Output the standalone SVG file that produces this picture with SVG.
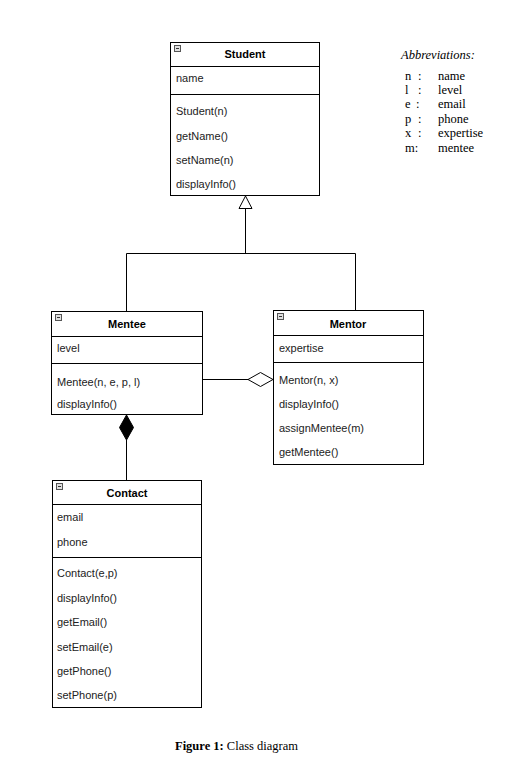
<svg xmlns="http://www.w3.org/2000/svg" width="511" height="767" viewBox="0 0 511 767">
<style>
.box{fill:#fff;stroke:#000;stroke-width:1}
.sep{stroke:#000;stroke-width:1}
.t{font-family:"Liberation Sans",Arial,sans-serif;font-size:11px;fill:#222}
.h{font-family:"Liberation Sans",Arial,sans-serif;font-size:11px;font-weight:bold;fill:#000;text-anchor:middle}
.ic{fill:#e0e0e0;stroke:#555;stroke-width:1}
.ab{font-family:"Liberation Serif","Times New Roman",serif;font-size:12.5px;fill:#000}
.ln{stroke:#000;stroke-width:1;fill:none}
</style>
<rect width="511" height="767" fill="#fff"/>
<g id="Student">
<rect class="box" x="170.5" y="42.5" width="149" height="153"/>
<rect class="ic" x="174.5" y="45.5" width="6" height="6"/><line x1="176" y1="48.5" x2="179" y2="48.5" stroke="#333"/>
<text class="h" x="245" y="58">Student</text>
<line class="sep" x1="170" y1="66.5" x2="320" y2="66.5"/>
<text class="t" x="176" y="82">name</text>
<line class="sep" x1="170" y1="94.5" x2="320" y2="94.5"/>
<text class="t" x="176" y="115">Student(n)</text>
<text class="t" x="176" y="140">getName()</text>
<text class="t" x="176" y="164">setName(n)</text>
<text class="t" x="176" y="188">displayInfo()</text>
</g>
<g id="Mentee">
<rect class="box" x="51.5" y="311.5" width="151" height="103"/>
<rect class="ic" x="55.5" y="314.5" width="6" height="6"/><line x1="57" y1="317.5" x2="60" y2="317.5" stroke="#333"/>
<text class="h" x="127" y="328">Mentee</text>
<line class="sep" x1="51" y1="336.5" x2="203" y2="336.5"/>
<text class="t" x="57" y="352">level</text>
<line class="sep" x1="51" y1="363.5" x2="203" y2="363.5"/>
<text class="t" x="57" y="386">Mentee(n, e, p, l)</text>
<text class="t" x="57" y="408">displayInfo()</text>
</g>
<g id="Mentor">
<rect class="box" x="273.5" y="310.5" width="150" height="154"/>
<rect class="ic" x="277.5" y="313.5" width="6" height="6"/><line x1="279" y1="316.5" x2="282" y2="316.5" stroke="#333"/>
<text class="h" x="348" y="328">Mentor</text>
<line class="sep" x1="273" y1="335.5" x2="424" y2="335.5"/>
<text class="t" x="279" y="352">expertise</text>
<line class="sep" x1="273" y1="362.5" x2="424" y2="362.5"/>
<text class="t" x="279" y="384">Mentor(n, x)</text>
<text class="t" x="279" y="408">displayInfo()</text>
<text class="t" x="279" y="432">assignMentee(m)</text>
<text class="t" x="279" y="456">getMentee()</text>
</g>
<g id="Contact">
<rect class="box" x="52.5" y="480.5" width="149" height="227"/>
<rect class="ic" x="56.5" y="483.5" width="6" height="6"/><line x1="58" y1="486.5" x2="61" y2="486.5" stroke="#333"/>
<text class="h" x="127" y="497">Contact</text>
<line class="sep" x1="52" y1="504.5" x2="202" y2="504.5"/>
<text class="t" x="57" y="521">email</text>
<text class="t" x="57" y="546">phone</text>
<line class="sep" x1="52" y1="557.5" x2="202" y2="557.5"/>
<text class="t" x="57" y="577">Contact(e,p)</text>
<text class="t" x="57" y="602">displayInfo()</text>
<text class="t" x="57" y="626">getEmail()</text>
<text class="t" x="57" y="651">setEmail(e)</text>
<text class="t" x="57" y="675">getPhone()</text>
<text class="t" x="57" y="699">setPhone(p)</text>
</g>
<g id="connectors">
<polyline class="ln" points="126.5,311 126.5,253.5 355.5,253.5 355.5,310"/>
<line class="ln" x1="245.5" y1="253.5" x2="245.5" y2="209"/>
<polygon points="245.5,196 252,208.5 239,208.5" fill="#fff" stroke="#000"/>
<line class="ln" x1="203" y1="379.5" x2="248" y2="379.5"/>
<polygon points="248,379.5 260.5,372.5 273,379.5 260.5,386.5" fill="#fff" stroke="#000"/>
<polygon points="126.5,415 133.5,427.5 126.5,440 119.5,427.5" fill="#000" stroke="#000"/>
<line class="ln" x1="126.5" y1="440" x2="126.5" y2="480"/>
</g>
<g id="abbreviations">
<text class="ab" x="401" y="59" font-style="italic">Abbreviations:</text>
<text class="ab" x="405" y="80">n</text><text class="ab" x="418" y="80">:</text><text class="ab" x="438" y="80">name</text>
<text class="ab" x="405" y="94">l</text><text class="ab" x="418" y="94">:</text><text class="ab" x="438" y="94">level</text>
<text class="ab" x="405" y="108">e</text><text class="ab" x="416" y="108">:</text><text class="ab" x="438" y="108">email</text>
<text class="ab" x="405" y="123">p</text><text class="ab" x="418" y="123">:</text><text class="ab" x="438" y="123">phone</text>
<text class="ab" x="405" y="137">x</text><text class="ab" x="418" y="137">:</text><text class="ab" x="438" y="137">expertise</text>
<text class="ab" x="405" y="152">m:</text><text class="ab" x="438" y="152">mentee</text>
</g>
<text x="175" y="750" font-family="'Liberation Serif','Times New Roman',serif" font-size="12.5px" fill="#000"><tspan font-weight="bold">Figure 1:</tspan> Class diagram</text>
</svg>
